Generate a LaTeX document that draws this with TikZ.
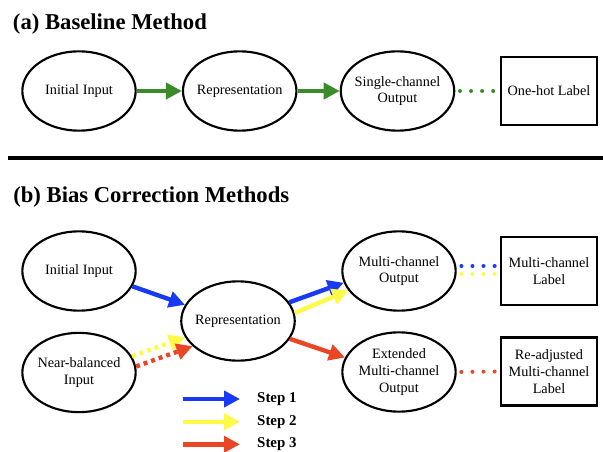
\documentclass[tikz,border=0pt]{standalone}
\usepackage{fontspec}
\setmainfont{Liberation Serif}
\usetikzlibrary{arrows.meta,shapes.geometric}

\definecolor{stepgreen}{RGB}{58,140,42}
\definecolor{stepblue}{RGB}{24,58,245}
\definecolor{stepyellow}{RGB}{255,250,72}
\definecolor{stepred}{RGB}{234,70,38}

\begin{document}
\begin{tikzpicture}[x=0.75pt, y=-0.75pt,
        stage/.style={ellipse, draw=black, line width=1.6pt, minimum width=85pt, minimum height=59.5pt, inner xsep=-2pt, inner ysep=0pt, align=center, font=\fontsize{10.7}{12.5}\selectfont},
        target/.style={rectangle, draw=black, line width=1.6pt, minimum width=72pt, minimum height=51pt, inner sep=0pt, align=center, font=\fontsize{10.7}{12.5}\selectfont},
        flow/.style={-{Triangle[length=12pt, width=12pt]}, line width=3.3pt},
        hintflow/.style={flow, dash pattern=on 3pt off 3pt},
        dots/.style={line width=3pt, line cap=round, dash pattern=on 0pt off 8.3pt, shorten <=3.5pt, shorten >=2.5pt},
        heading/.style={anchor=west, inner sep=0pt, font=\fontsize{17}{20}\selectfont\bfseries},
        keyText/.style={anchor=west, inner sep=0pt, font=\fontsize{11.2}{13}\selectfont\bfseries}
      ]
      \useasboundingbox (0,0) rectangle (603,452);

      % (a) baseline
      \node[heading] (titleA) at (12.7,24) {(a) Baseline Method};
      \node[stage] (initA) at (79,91) {Initial Input};
      \node[stage] (reprA) at (239.7,91) {Representation};
      \node[stage] (singleOut) at (397.5,91) {Single-channel\\Output};
      \node[target] (onehot) at (549,91) {One-hot Label};

      \draw[flow, stepgreen] (initA) -- (reprA);
      \draw[flow, stepgreen] (reprA) -- (singleOut);
      \draw[dots, stepgreen] (singleOut.east) -- (onehot.west);

      \draw[line width=2.7pt] (7.7,158) -- (603,158);

      % (b) bias correction
      \node[heading] (titleB) at (13,197) {(b) Bias Correction Methods};
      \node[stage] (initB) at (79,271) {Initial Input};
      \node[stage] (nearBal) at (79,372.5) {Near-balanced\\Input};
      \node[stage] (reprB) at (238,321) {Representation};
      \node[stage] (mcOut) at (399,271) {Multi-channel\\Output};
      \node[stage] (extOut) at (399,372) {Extended\\Multi-channel\\Output};
      \node[target] (mcLabel) at (549,271) {Multi-channel\\Label};
      \node[target] (readjLabel) at (549,371.5) {Re-adjusted\\Multi-channel\\Label};

      \draw[flow, stepblue] (initB.-16) -- (reprB.163);
      \draw[hintflow, stepyellow] (nearBal.17) -- (reprB.197);
      \draw[hintflow, stepred] (nearBal.6) -- (reprB.209);
      \draw[flow, stepblue] (reprB.20) -- (mcOut.192);
      \draw[flow, stepyellow] (reprB.8) -- (mcOut.201);
      \draw[flow, stepred] (reprB.-19) -- (extOut.165);

      \draw[dots, stepblue] ([yshift=3.75pt]mcOut.east) -- ([yshift=3.75pt]mcLabel.west);
      \draw[dots, stepyellow] ([yshift=-2.25pt]mcOut.east) -- ([yshift=-2.25pt]mcLabel.west);
      \draw[dots, stepred] (extOut.east) -- (readjLabel.west);

      % step key
      \coordinate (keyA) at (183,399);
      \coordinate (keyB) at (183,421.7);
      \coordinate (keyC) at (183,444.3);
      \draw[flow, stepblue] (keyA) -- ++(57,0) node[keyText, black, xshift=11.25pt] (stepOne) {Step 1};
      \draw[flow, stepyellow] (keyB) -- ++(57,0) node[keyText, black, xshift=11.25pt] (stepTwo) {Step 2};
      \draw[flow, stepred] (keyC) -- ++(57,0) node[keyText, black, xshift=11.25pt] (stepThree) {Step 3};
    \end{tikzpicture}
\end{document}
